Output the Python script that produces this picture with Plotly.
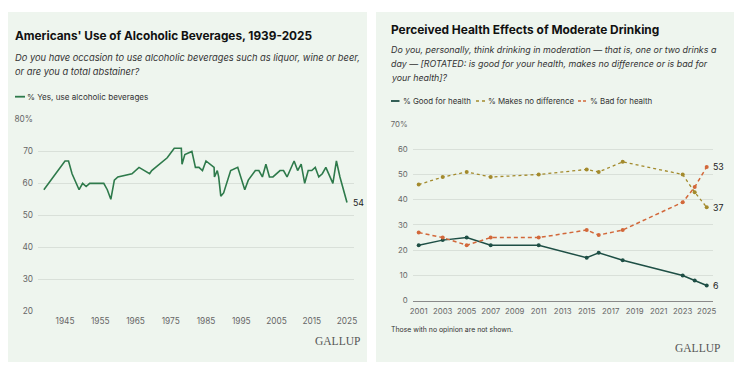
import plotly.graph_objects as go

# ---- Left chart data: % Yes, use alcoholic beverages ----
use_years = [1939, 1945, 1946, 1947, 1949, 1950, 1951, 1952, 1956, 1957, 1958, 1959, 1960,
             1964, 1966, 1969, 1969.6, 1974, 1976, 1978, 1978.2, 1979, 1981, 1982, 1983, 1984,
             1985, 1986.6, 1987.3, 1987.4, 1988.2, 1988.6, 1989.2, 1990, 1992, 1994, 1996, 1997,
             1999, 2000, 2001, 2002, 2003, 2004, 2006, 2007, 2008, 2010, 2011, 2012, 2013,
             2014, 2015, 2016, 2017, 2018, 2019, 2021, 2022, 2023, 2024, 2025]
use_vals = [58, 67, 67, 63, 58, 60, 59, 60, 60, 58, 55, 61, 62,
            63, 65, 63, 64, 68, 71, 71, 66, 69, 70, 65, 65, 64,
            67, 65.5, 65, 62, 64, 62, 56, 57, 64, 65, 58, 61,
            64, 64, 62, 66, 62, 62, 64, 64, 62, 67, 64, 66, 60,
            64, 64, 65, 62, 63, 65, 60, 67, 62, 58, 54]
left_xticks = [1945, 1955, 1965, 1975, 1985, 1995, 2005, 2015, 2025]
left_yticks = [20, 30, 40, 50, 60, 70, 80]
left_ytext = ["20", "30", "40", "50", "60", "70", "80%"]

# ---- Right chart data ----
health_years = [2001, 2003, 2005, 2007, 2011, 2015, 2016, 2018, 2023, 2024, 2025]
good = [22, 24, 25, 22, 22, 17, 19, 16, 10, 8, 6]
no_diff = [46, 49, 51, 49, 50, 52, 51, 55, 50, 43, 37]
bad = [27, 25, 22, 25, 25, 28, 26, 28, 39, 45, 53]
right_xticks = list(range(2001, 2026, 2))
right_yticks = [0, 10, 20, 30, 40, 50, 60, 70]
right_ytext = ["0", "10", "20", "30", "40", "50", "60", "70%"]

# The page body has an 8px margin, so the figure is drawn 8px in from the window corner.
OFF = 8
W, H = 742 - OFF, 374 - OFF
def px(x):
    return (x - OFF) / W
def py(y):
    return 1 - (y - OFF) / H

BG = "#eef5ee"
GRID = "#d9e0d9"
TICKC = "#666666"
FONT = "Inter, Roboto, sans-serif"
GREEN = "#2e7a4b"
C_GOOD = "#1e4f45"
C_NOD = "#a38a2c"
C_BAD = "#d2683a"

fig = go.Figure()

fig.add_trace(go.Scatter(x=use_years, y=use_vals, mode="lines",
                         line=dict(color=GREEN, width=1.6), xaxis="x", yaxis="y",
                         showlegend=False, hoverinfo="x+y"))

fig.add_trace(go.Scatter(x=health_years, y=good, mode="lines+markers",
                         line=dict(color=C_GOOD, width=1.5),
                         marker=dict(size=4, color=C_GOOD),
                         xaxis="x2", yaxis="y2", showlegend=False))
fig.add_trace(go.Scatter(x=health_years, y=no_diff, mode="lines+markers",
                         line=dict(color=C_NOD, width=1.3, dash="dot"),
                         marker=dict(size=4, color=C_NOD),
                         xaxis="x2", yaxis="y2", showlegend=False))
fig.add_trace(go.Scatter(x=health_years, y=bad, mode="lines+markers",
                         line=dict(color=C_BAD, width=1.5, dash="4px,3px"),
                         marker=dict(size=4, color=C_BAD),
                         xaxis="x2", yaxis="y2", showlegend=False))

tickfont_l = dict(family=FONT, size=8.3, color=TICKC)
tickfont_r = dict(family=FONT, size=7.8, color=TICKC)

fig.update_layout(
    width=W, height=H,
    margin=dict(l=0, r=0, t=0, b=0, autoexpand=False),
    paper_bgcolor="white", plot_bgcolor="rgba(0,0,0,0)",
    xaxis=dict(domain=[px(38), px(354)], range=[1937.34, 2026.99],
               tickvals=left_xticks, ticktext=[str(t) for t in left_xticks],
               showgrid=False, zeroline=False, showline=False, ticks="",
               tickfont=tickfont_l, anchor="y", ticklabelstandoff=4,
               tickangle=0, automargin=False),
    yaxis=dict(domain=[py(311), py(119.5)], range=[20, 80],
               tickvals=left_yticks, ticktext=left_ytext,
               showgrid=True, gridcolor=GRID, gridwidth=1, zeroline=False,
               showline=False, ticks="", tickfont=tickfont_l, anchor="x",
               ticklabelstandoff=4, automargin=False),
    xaxis2=dict(domain=[px(412.7), px(712.7)], range=[2000.5, 2025.5],
                tickvals=right_xticks, ticktext=[str(t) for t in right_xticks],
                showgrid=False, zeroline=False, showline=True, linecolor="#8a8a8a",
                linewidth=1.2, ticks="", tickfont=tickfont_r, anchor="y2",
                ticklabelstandoff=3, tickangle=0, automargin=False),
    yaxis2=dict(domain=[py(300.7), py(124)], range=[0, 70],
                tickvals=right_yticks, ticktext=right_ytext,
                showgrid=True, gridcolor=GRID, gridwidth=1, zeroline=False,
                showline=False, ticks="", tickfont=tickfont_r, anchor="x2",
                ticklabelstandoff=4, automargin=False),
)

shapes = [
    dict(type="rect", xref="paper", yref="paper", x0=px(8), x1=px(367),
         y0=py(362), y1=py(12), fillcolor=BG, line=dict(width=0), layer="below"),
    dict(type="rect", xref="paper", yref="paper", x0=px(376), x1=px(736),
         y0=py(362), y1=py(12), fillcolor=BG, line=dict(width=0), layer="below"),
    # legend keys
    dict(type="line", xref="paper", yref="paper", x0=px(15), x1=px(25),
         y0=py(96.7), y1=py(96.7), line=dict(color=GREEN, width=1.8)),
    dict(type="line", xref="paper", yref="paper", x0=px(391), x1=px(399.5),
         y0=py(101), y1=py(101), line=dict(color=C_GOOD, width=1.8)),
    dict(type="line", xref="paper", yref="paper", x0=px(476), x1=px(485.5),
         y0=py(101), y1=py(101), line=dict(color=C_NOD, width=1.4, dash="dot")),
    dict(type="line", xref="paper", yref="paper", x0=px(578), x1=px(587.5),
         y0=py(101), y1=py(101), line=dict(color=C_BAD, width=1.6, dash="3px,2px")),
]
fig.update_layout(shapes=shapes)

def ann(x, y, text, size, color="#222222", bold=False, italic=False,
        family=FONT, xanchor="left"):
    t = text
    if bold:
        t = "<b>" + t + "</b>"
    if italic:
        t = "<i>" + t + "</i>"
    return dict(xref="paper", yref="paper", x=px(x), y=py(y), text=t,
                showarrow=False, xanchor=xanchor, yanchor="middle",
                borderpad=0, font=dict(family=family, size=size, color=color))

SUB = 9.3
SUB_R = 8.85
anns = [
    ann(14, 36, "Americans' Use of Alcoholic Beverages, 1939-2025", 11.8, "#111111", bold=True),
    ann(14, 57.3, "Do you have occasion to use alcoholic beverages such as liquor, wine or beer,", SUB, "#333333", italic=True),
    ann(14, 71.7, "or are you a total abstainer?", SUB, "#333333", italic=True),
    ann(26, 96.7, "% Yes, use alcoholic beverages", 8.1, "#333333"),
    ann(390, 30, "Perceived Health Effects of Moderate Drinking", 11.9, "#111111", bold=True),
    ann(390, 49.3, "Do you, personally, think drinking in moderation \u2014 that is, one or two drinks a", SUB_R, "#333333", italic=True),
    ann(390, 63.3, "day \u2014 [ROTATED: is good for your health, makes no difference or is bad for", SUB_R, "#333333", italic=True),
    ann(390, 77.7, "your health]?", SUB_R, "#333333", italic=True),
    ann(401.5, 101, "% Good for health", 7.9, "#333333"),
    ann(486.5, 101, "% Makes no difference", 7.9, "#333333"),
    ann(588.5, 101, "% Bad for health", 7.9, "#333333"),
    ann(390, 329.3, "Those with no opinion are not shown.", 6.9, "#333333"),
    ann(361, 341, "GALLUP", 11.5, "#555555", family="Liberation Serif, serif", xanchor="right"),
    ann(721, 348.3, "GALLUP", 11.5, "#555555", family="Liberation Serif, serif", xanchor="right"),
]
# end labels tied to data
end_labels = [
    dict(x=use_years[-1], y=use_vals[-1], xref="x", yref="y", text=str(use_vals[-1])),
    dict(x=health_years[-1], y=bad[-1], xref="x2", yref="y2", text=str(bad[-1])),
    dict(x=health_years[-1], y=no_diff[-1], xref="x2", yref="y2", text=str(no_diff[-1])),
    dict(x=health_years[-1], y=good[-1], xref="x2", yref="y2", text=str(good[-1])),
]
for e in end_labels:
    anns.append(dict(x=e["x"], y=e["y"], xref=e["xref"], yref=e["yref"], text=e["text"],
                     showarrow=False, xanchor="left", yanchor="middle", xshift=4,
                     font=dict(family=FONT, size=8.8, color="#222222")))
fig.update_layout(annotations=anns)

fig.write_html("out.html")
